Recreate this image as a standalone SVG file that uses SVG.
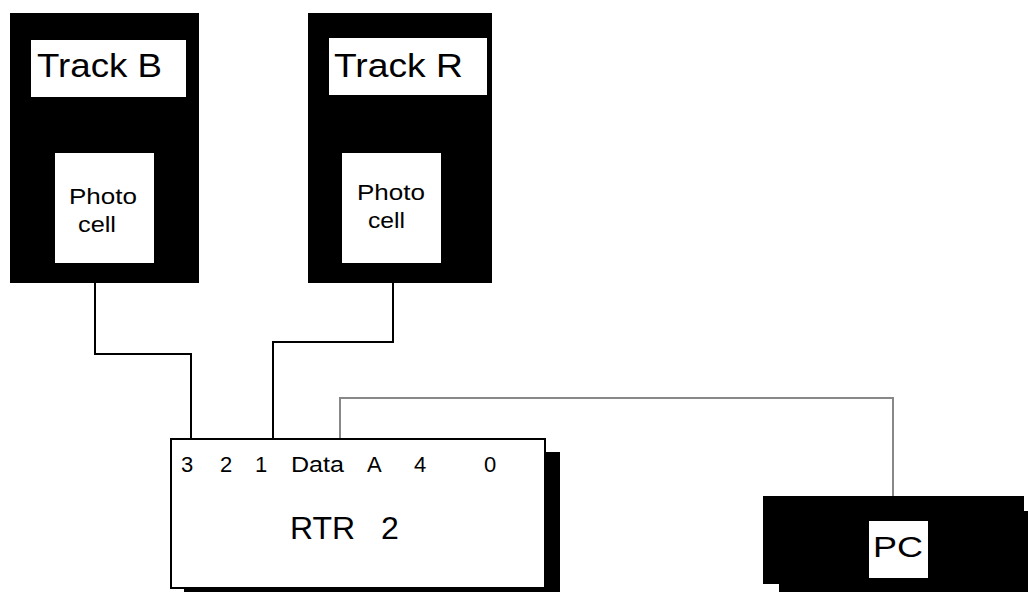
<svg xmlns="http://www.w3.org/2000/svg" width="1028" height="592" viewBox="0 0 1028 592">
<style>
.t{font-family:"Liberation Sans",Arial,sans-serif;fill:#000}
.wire{fill:none;stroke:#000;stroke-width:2}
.gray{fill:none;stroke:#888;stroke-width:2}
.blk{fill:#000}
.wht{fill:#fff}
</style>
<rect width="1028" height="592" fill="#fff"/>
<g id="connectors">
<polyline class="wire" points="95,263 95,354 191,354 191,439"/>
<polyline class="wire" points="393,263 393,342 273,342 273,439"/>
<polyline class="gray" points="340,439 340,398 893,398 893,496"/>
</g>
<g id="trackB">
<rect class="blk" x="10" y="13" width="189" height="270"/>
<rect class="wht" x="31" y="40" width="155" height="57"/>
<text class="t" x="37" y="77" font-size="33" textLength="125" lengthAdjust="spacingAndGlyphs">Track B</text>
<rect class="wht" x="55" y="153" width="99" height="110"/>
<text class="t" x="69" y="204" font-size="22" textLength="68" lengthAdjust="spacingAndGlyphs">Photo</text>
<text class="t" x="78" y="232" font-size="22" textLength="38" lengthAdjust="spacingAndGlyphs">cell</text>
</g>
<g id="trackR">
<rect class="blk" x="308" y="13" width="184" height="270"/>
<rect class="wht" x="329" y="38" width="158" height="57"/>
<text class="t" x="334" y="77" font-size="33" textLength="129" lengthAdjust="spacingAndGlyphs">Track R</text>
<rect class="wht" x="342" y="153" width="99" height="110"/>
<text class="t" x="357" y="200" font-size="22" textLength="68" lengthAdjust="spacingAndGlyphs">Photo</text>
<text class="t" x="368" y="228" font-size="22" textLength="37" lengthAdjust="spacingAndGlyphs">cell</text>
</g>
<g id="rtr2">
<rect class="blk" x="184" y="452" width="376" height="145"/>
<rect x="171" y="439" width="374" height="149" fill="#fff" stroke="#000" stroke-width="2"/>
<text class="t" y="472" font-size="22"><tspan x="181">3</tspan><tspan x="220">2</tspan><tspan x="255">1</tspan></text>
<text class="t" x="291" y="472" font-size="22" textLength="53" lengthAdjust="spacingAndGlyphs">Data</text>
<text class="t" y="472" font-size="22"><tspan x="367">A</tspan><tspan x="414">4</tspan><tspan x="484">0</tspan></text>
<text class="t" y="539" font-size="32"><tspan x="290">RTR</tspan><tspan x="381">2</tspan></text>
</g>
<g id="pc">
<rect class="blk" x="779" y="511" width="260" height="90"/>
<rect class="blk" x="763" y="496" width="261" height="88"/>
<rect class="wht" x="869" y="521" width="59" height="57"/>
<text class="t" x="873" y="557" font-size="29" textLength="50" lengthAdjust="spacingAndGlyphs">PC</text>
</g>
</svg>
